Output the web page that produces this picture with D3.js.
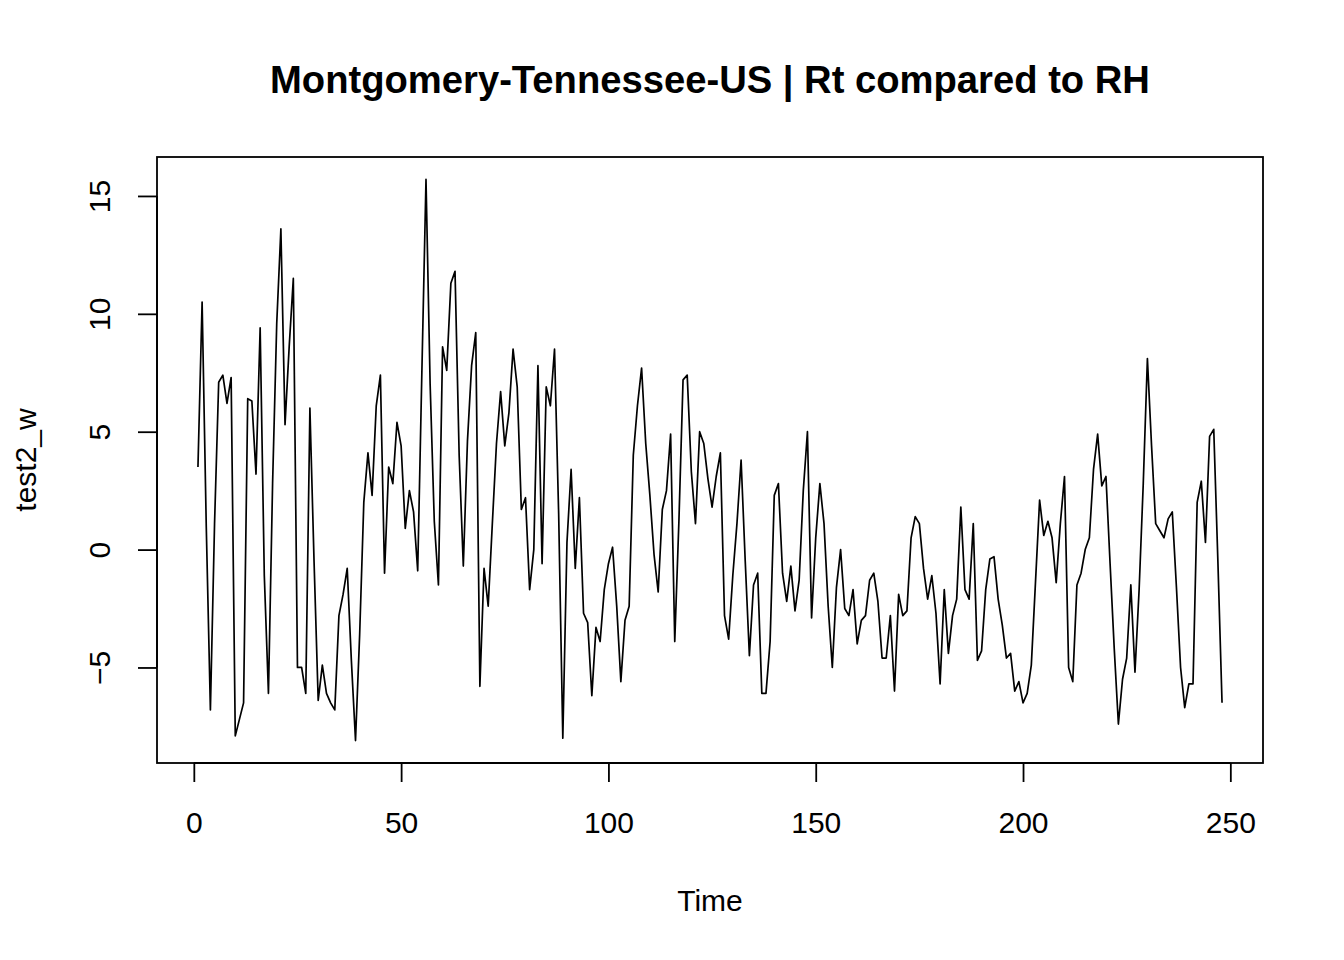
<!DOCTYPE html>
<html>
<head>
<meta charset="utf-8">
<script src="https://cdn.jsdelivr.net/npm/d3@7"></script>
<style>
  body { margin: 0; background: #fff; }
  svg text { font-family: Arial, "Liberation Sans", sans-serif; fill: #000; }
</style>
</head>
<body>
<svg id="chart" width="1344" height="960"></svg>
<script>
// series (time 1..248)
var rtValues = [
  3.5, 10.5, 1.0, -6.8, 1.1, 7.1, 7.4, 6.2, 7.3, -7.9,
  -7.2, -6.5, 6.4, 6.3, 3.2, 9.4, -1.1, -6.1, 2.8, 9.6,
  13.6, 5.3, 8.6, 11.5, -5.0, -5.0, -6.1, 6.0, -0.5, -6.4,
  -4.9, -6.1, -6.5, -6.8, -2.8, -1.9, -0.8, -4.7, -8.1, -3.6,
  2.0, 4.1, 2.3, 6.1, 7.4, -1.0, 3.5, 2.8, 5.4, 4.4,
  0.9, 2.5, 1.6, -0.9, 7.5, 15.7, 7.0, 1.2, -1.5, 8.6,
  7.6, 11.3, 11.8, 4.0, -0.7, 4.6, 7.8, 9.2, -5.8, -0.8,
  -2.4, 1.1, 4.5, 6.7, 4.4, 5.8, 8.5, 6.9, 1.7, 2.2,
  -1.7, 0.0, 7.8, -0.6, 6.9, 6.1, 8.5, 1.5, -8.0, 0.3,
  3.4, -0.8, 2.2, -2.7, -3.1, -6.2, -3.3, -3.9, -1.7, -0.6,
  0.1, -2.4, -5.6, -3.0, -2.4, 4.0, 6.1, 7.7, 4.5, 2.3,
  -0.2, -1.8, 1.7, 2.5, 4.9, -3.9, 1.2, 7.2, 7.4, 3.3,
  1.1, 5.0, 4.5, 3.0, 1.8, 3.1, 4.1, -2.8, -3.8, -1.1,
  1.1, 3.8, -0.5, -4.5, -1.5, -1.0, -6.1, -6.1, -3.9, 2.3,
  2.8, -1.0, -2.2, -0.7, -2.6, -1.3, 2.5, 5.0, -2.9, 0.5,
  2.8, 1.1, -2.4, -5.0, -1.6, 0.0, -2.5, -2.8, -1.7, -4.0,
  -3.0, -2.8, -1.3, -1.0, -2.2, -4.6, -4.6, -2.8, -6.0, -1.9,
  -2.8, -2.6, 0.5, 1.4, 1.1, -0.8, -2.1, -1.1, -2.7, -5.7,
  -1.7, -4.4, -2.8, -2.1, 1.8, -1.7, -2.1, 1.1, -4.7, -4.3,
  -1.7, -0.4, -0.3, -2.1, -3.2, -4.6, -4.4, -6.0, -5.6, -6.5,
  -6.1, -4.9, -1.4, 2.1, 0.6, 1.2, 0.5, -1.4, 1.1, 3.1,
  -5.0, -5.6, -1.5, -1.0, 0.0, 0.5, 3.4, 4.9, 2.7, 3.1,
  -0.6, -4.2, -7.4, -5.5, -4.6, -1.5, -5.2, -1.7, 2.8, 8.1,
  4.4, 1.1, 0.8, 0.5, 1.3, 1.6, -1.6, -5.0, -6.7, -5.7,
  -5.7, 2.0, 2.9, 0.3, 4.8, 5.1, -0.5, -6.5
];
var xTicks = [0, 50, 100, 150, 200, 250];
var yTicks = [-5, 0, 5, 10, 15];
var chartTitle = 'Montgomery-Tennessee-US | Rt compared to RH';
var xLabel = 'Time';
var yLabel = 'test2_w';

var svg = d3.select('#chart');
var box = { left: 157, right: 1263, top: 157, bottom: 763 };

var series = rtValues.map(function(v, i) { return { t: i + 1, v: v }; });

// R style axis extension: 4% on each side of the data range
function padded(ext) {
    var d = (ext[1] - ext[0]) * 0.04;
    return [ext[0] - d, ext[1] + d];
}

var x = d3.scaleLinear()
    .domain(padded(d3.extent(series, function(d) { return d.t; })))
    .range([box.left, box.right]);
var y = d3.scaleLinear()
    .domain(padded(d3.extent(series, function(d) { return d.v; })))
    .range([box.bottom, box.top]);

//the series
var line = d3.line()
    .x(function(d) { return x(d.t); })
    .y(function(d) { return y(d.v); });

svg.append('path')
    .datum(series)
    .attr('d', line)
    .attr('fill', 'none')
    .attr('stroke', '#000')
    .attr('stroke-width', 1.7)
    .attr('stroke-linejoin', 'round');

//frame
svg.append('rect')
    .attr('x', box.left)
    .attr('y', box.top)
    .attr('width', box.right - box.left)
    .attr('height', box.bottom - box.top)
    .attr('fill', 'none')
    .attr('stroke', '#000')
    .attr('stroke-width', 1.8);

//x axis
var xAxis = d3.axisBottom(x)
    .tickValues(xTicks)
    .tickSize(19)
    .tickPadding(46)
    .tickSizeOuter(0);
var gx = svg.append('g')
    .attr('transform', 'translate(0,' + box.bottom + ')')
    .call(xAxis);
gx.select('.domain')
    .attr('d', 'M' + x(xTicks[0]) + ',0H' + x(xTicks[xTicks.length - 1]))
    .attr('stroke-width', 1.8);
gx.selectAll('.tick line').attr('stroke-width', 1.8);
gx.selectAll('.tick text')
    .attr('font-size', 30)
    .attr('font-family', 'Arial, "Liberation Sans", sans-serif')
    .attr('dy', '0.15em');

//y axis, labels turned like R's las=0
var yAxis = d3.axisLeft(y)
    .tickValues(yTicks)
    .tickSize(19)
    .tickSizeOuter(0)
    .tickFormat(d3.format('d'));
var gy = svg.append('g')
    .attr('transform', 'translate(' + box.left + ',0)')
    .call(yAxis);
gy.select('.domain')
    .attr('d', 'M0,' + y(yTicks[0]) + 'V' + y(yTicks[yTicks.length - 1]))
    .attr('stroke-width', 1.8);
gy.selectAll('.tick line').attr('stroke-width', 1.8);
gy.selectAll('.tick text')
    .attr('font-size', 30)
    .attr('font-family', 'Arial, "Liberation Sans", sans-serif')
    .attr('x', null)
    .attr('dy', null)
    .attr('text-anchor', 'middle')
    .attr('transform', 'translate(-47,0) rotate(-90)');

//titles
svg.append('text')
    .attr('x', (box.left + box.right) / 2)
    .attr('y', 93)
    .attr('text-anchor', 'middle')
    .attr('font-size', 38.2)
    .attr('font-weight', 'bold')
    .text(chartTitle);

svg.append('text')
    .attr('x', (box.left + box.right) / 2)
    .attr('y', 911)
    .attr('text-anchor', 'middle')
    .attr('font-size', 30)
    .text(xLabel);

svg.append('text')
    .attr('transform', 'translate(36,' + (box.top + box.bottom) / 2 + ') rotate(-90)')
    .attr('text-anchor', 'middle')
    .attr('font-size', 30)
    .text(yLabel);
</script>
</body>
</html>
